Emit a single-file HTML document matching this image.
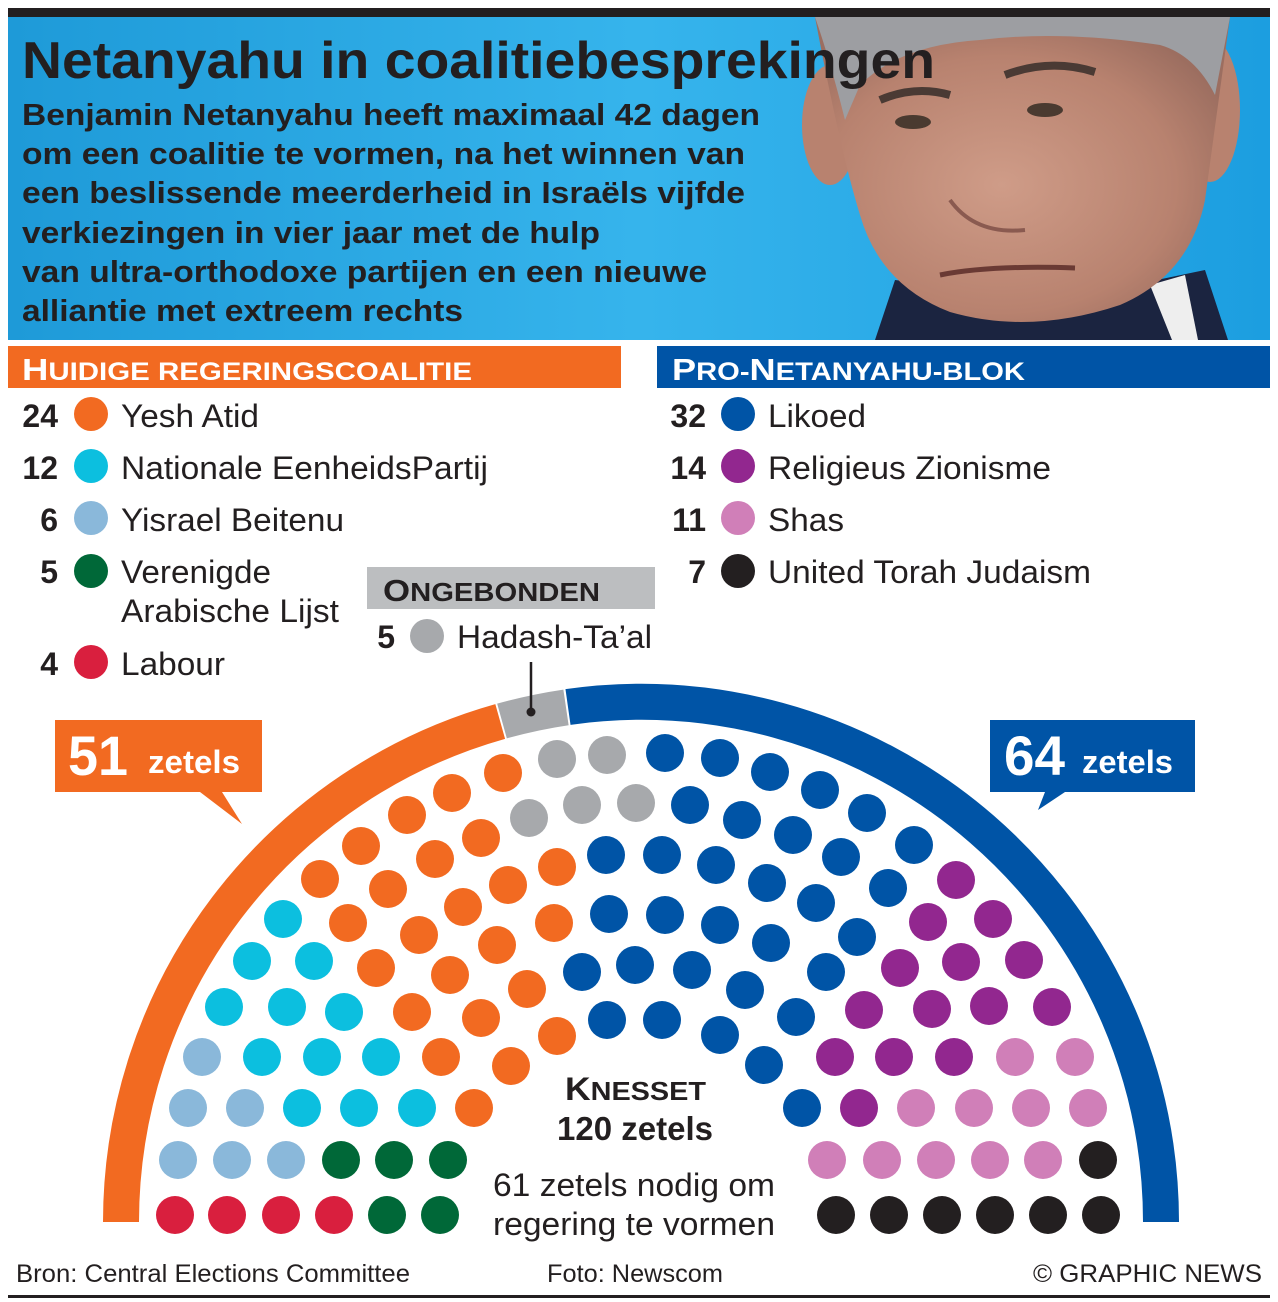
<!DOCTYPE html>
<html><head><meta charset="utf-8"><style>
html,body{margin:0;padding:0;background:#fff}
svg{display:block}
text{font-family:"Liberation Sans",sans-serif}
</style></head><body>
<svg width="1278" height="1302" viewBox="0 0 1278 1302" xmlns="http://www.w3.org/2000/svg">
<defs>
<linearGradient id="bg" x1="0" y1="0" x2="1" y2="0">
<stop offset="0" stop-color="#1e9ad8"/><stop offset="0.5" stop-color="#36b4ec"/><stop offset="1" stop-color="#1c9ee0"/>
</linearGradient>
<radialGradient id="skin" cx="0.45" cy="0.55" r="0.6">
<stop offset="0" stop-color="#cf9c88"/><stop offset="0.7" stop-color="#b8826f"/><stop offset="1" stop-color="#9c6e60"/>
</radialGradient>
</defs>
<rect x="0" y="0" width="1278" height="1302" fill="#fff"/>
<rect x="8" y="8" width="1262" height="9" fill="#231f20"/>
<rect x="8" y="17" width="1262" height="323" fill="url(#bg)"/>
<!-- photo approximation -->
<g>
<path d="M875 340 L895 280 L1060 300 L1205 270 L1228 340 Z" fill="#1b2440"/>
<path d="M1150 285 L1172 340 L1198 340 L1185 275 Z" fill="#eee"/>
<ellipse cx="830" cy="125" rx="28" ry="60" fill="#b8826f"/>
<ellipse cx="1210" cy="110" rx="30" ry="72" fill="#b8826f"/>
<path d="M815 17 L1230 17 L1205 200 Q1190 275 1120 305 Q1030 335 950 312 Q880 285 860 215 Q840 150 815 17 Z" fill="url(#skin)"/>
<path d="M815 17 L1230 17 L1215 95 Q1195 55 1160 45 Q1060 30 980 40 Q900 45 860 85 L845 120 Q830 60 815 17 Z" fill="#9d9ea2"/>
<path d="M880 100 Q915 85 950 95" stroke="#4a3a34" stroke-width="8" fill="none"/>
<path d="M1005 75 Q1050 58 1095 72" stroke="#4a3a34" stroke-width="8" fill="none"/>
<ellipse cx="913" cy="122" rx="18" ry="7" fill="#4a3a30"/>
<ellipse cx="1045" cy="110" rx="18" ry="7" fill="#4a3a30"/>
<path d="M940 275 Q990 265 1075 268" stroke="#6a3a34" stroke-width="5" fill="none"/>
<path d="M950 200 Q975 235 1025 230" stroke="#8a5a50" stroke-width="4" fill="none"/>
</g>
<text x="22" y="78" font-size="52" font-weight="bold" fill="#231f20" textLength="913" lengthAdjust="spacingAndGlyphs">Netanyahu in coalitiebesprekingen</text>
<g font-size="31" font-weight="bold" fill="#231f20">
<text x="22" y="125" textLength="738" lengthAdjust="spacingAndGlyphs">Benjamin Netanyahu heeft maximaal 42 dagen</text>
<text x="22" y="164" textLength="723" lengthAdjust="spacingAndGlyphs">om een coalitie te vormen, na het winnen van</text>
<text x="22" y="203" textLength="723" lengthAdjust="spacingAndGlyphs">een beslissende meerderheid in Israëls vijfde</text>
<text x="22" y="243" textLength="578" lengthAdjust="spacingAndGlyphs">verkiezingen in vier jaar met de hulp</text>
<text x="22" y="282" textLength="685" lengthAdjust="spacingAndGlyphs">van ultra-orthodoxe partijen en een nieuwe</text>
<text x="22" y="321" textLength="441" lengthAdjust="spacingAndGlyphs">alliantie met extreem rechts</text>
</g>
<!-- section bars -->
<rect x="8" y="346" width="613" height="42" fill="#f26a21"/>
<text x="22" y="380" font-size="31" font-weight="bold" fill="#fff" textLength="450" lengthAdjust="spacingAndGlyphs">H<tspan font-size="25">UIDIGE REGERINGSCOALITIE</tspan></text>
<rect x="657" y="346" width="613" height="42" fill="#0054a6"/>
<text x="672" y="380" font-size="31" font-weight="bold" fill="#fff" textLength="353" lengthAdjust="spacingAndGlyphs">P<tspan font-size="25">RO-</tspan>N<tspan font-size="25">ETANYAHU-BLOK</tspan></text>
<!-- legend -->
<g font-size="32" fill="#231f20">
<g font-weight="bold" text-anchor="end">
<text x="58" y="427">24</text><text x="58" y="479">12</text><text x="58" y="531">6</text><text x="58" y="583">5</text><text x="58" y="675">4</text>
<text x="706" y="427">32</text><text x="706" y="479">14</text><text x="706" y="531">11</text><text x="706" y="583">7</text>
<text x="395" y="648">5</text>
</g>
<circle cx="91" cy="414" r="17" fill="#f26a21"/>
<circle cx="91" cy="466" r="17" fill="#0cbfdf"/>
<circle cx="91" cy="518" r="17" fill="#8ab8da"/>
<circle cx="91" cy="571" r="17" fill="#006838"/>
<circle cx="91" cy="662" r="17" fill="#d91f3e"/>
<circle cx="738" cy="414" r="17" fill="#0054a6"/>
<circle cx="738" cy="466" r="17" fill="#92278f"/>
<circle cx="738" cy="518" r="17" fill="#d07fb8"/>
<circle cx="738" cy="571" r="17" fill="#231f20"/>
<circle cx="427" cy="636" r="17" fill="#a7a9ac"/>
<text x="121" y="427" textLength="138" lengthAdjust="spacingAndGlyphs">Yesh Atid</text>
<text x="121" y="479" textLength="367" lengthAdjust="spacingAndGlyphs">Nationale EenheidsPartij</text>
<text x="121" y="531" textLength="223" lengthAdjust="spacingAndGlyphs">Yisrael Beitenu</text>
<text x="121" y="583" textLength="150" lengthAdjust="spacingAndGlyphs">Verenigde</text>
<text x="121" y="622" textLength="218" lengthAdjust="spacingAndGlyphs">Arabische Lijst</text>
<text x="121" y="675" textLength="104" lengthAdjust="spacingAndGlyphs">Labour</text>
<text x="768" y="427" textLength="98" lengthAdjust="spacingAndGlyphs">Likoed</text>
<text x="768" y="479" textLength="283" lengthAdjust="spacingAndGlyphs">Religieus Zionisme</text>
<text x="768" y="531" textLength="76" lengthAdjust="spacingAndGlyphs">Shas</text>
<text x="768" y="583" textLength="323" lengthAdjust="spacingAndGlyphs">United Torah Judaism</text>
<text x="457" y="648" textLength="195" lengthAdjust="spacingAndGlyphs">Hadash-Ta’al</text>
</g>
<rect x="367" y="567" width="288" height="42" fill="#bcbec0"/>
<text x="383" y="601" font-size="31" font-weight="bold" fill="#231f20" textLength="217" lengthAdjust="spacingAndGlyphs">O<tspan font-size="26">NGEBONDEN</tspan></text>
<!-- arcs -->
<g fill="none" stroke-width="36">
<path d="M121 1222 A520 520 0 0 1 500.2 721.5" stroke="#f26a21"/>
<path d="M502 721 A520 520 0 0 1 566 707.4" stroke="#a7a9ac"/>
<path d="M568 707 A520 520 0 0 1 1161 1222" stroke="#0054a6"/>
</g>
<line x1="531" y1="662" x2="531" y2="712" stroke="#231f20" stroke-width="2.5"/>
<circle cx="531" cy="712" r="4.5" fill="#231f20"/>
<!-- callouts -->
<path d="M55 720 H262 V792 H222 L242 824 L200 792 H55 Z" fill="#f26a21"/>
<text x="68" y="775" font-size="56" font-weight="bold" fill="#fff" textLength="60" lengthAdjust="spacingAndGlyphs">51</text>
<text x="148" y="773" font-size="32" font-weight="bold" fill="#fff" textLength="92" lengthAdjust="spacingAndGlyphs">zetels</text>
<path d="M990 720 H1195 V792 H1065 L1038 810 L1045 792 H990 Z" fill="#0054a6"/>
<text x="1004" y="775" font-size="56" font-weight="bold" fill="#fff" textLength="61" lengthAdjust="spacingAndGlyphs">64</text>
<text x="1082" y="773" font-size="32" font-weight="bold" fill="#fff" textLength="91" lengthAdjust="spacingAndGlyphs">zetels</text>
<!-- dots -->
<g>
<g fill="#f26a21">
<circle cx="503" cy="773" r="19"/><circle cx="452" cy="793" r="19"/><circle cx="407" cy="815" r="19"/><circle cx="361" cy="846" r="19"/><circle cx="320" cy="879" r="19"/>
<circle cx="481" cy="838" r="19"/><circle cx="435" cy="859" r="19"/><circle cx="388" cy="889" r="19"/><circle cx="348" cy="923" r="19"/>
<circle cx="557" cy="867" r="19"/><circle cx="508" cy="885" r="19"/><circle cx="463" cy="907" r="19"/><circle cx="419" cy="935" r="19"/><circle cx="376" cy="968" r="19"/>
<circle cx="554" cy="923" r="19"/><circle cx="497" cy="945" r="19"/><circle cx="450" cy="975" r="19"/><circle cx="412" cy="1012" r="19"/>
<circle cx="527" cy="989" r="19"/><circle cx="481" cy="1018" r="19"/><circle cx="441" cy="1057" r="19"/>
<circle cx="557" cy="1036" r="19"/><circle cx="511" cy="1066" r="19"/><circle cx="474" cy="1108" r="19"/>
</g>
<g fill="#0cbfdf">
<circle cx="283" cy="919" r="19"/><circle cx="252" cy="961" r="19"/><circle cx="224" cy="1007" r="19"/>
<circle cx="314" cy="961" r="19"/><circle cx="287" cy="1007" r="19"/><circle cx="262" cy="1057" r="19"/>
<circle cx="344" cy="1012" r="19"/><circle cx="322" cy="1057" r="19"/><circle cx="302" cy="1108" r="19"/>
<circle cx="381" cy="1057" r="19"/><circle cx="359" cy="1108" r="19"/><circle cx="417" cy="1108" r="19"/>
</g>
<g fill="#8ab8da">
<circle cx="202" cy="1057" r="19"/><circle cx="188" cy="1108" r="19"/><circle cx="178" cy="1160" r="19"/>
<circle cx="245" cy="1108" r="19"/><circle cx="232" cy="1160" r="19"/><circle cx="286" cy="1160" r="19"/>
</g>
<g fill="#006838">
<circle cx="341" cy="1160" r="19"/><circle cx="394" cy="1160" r="19"/><circle cx="448" cy="1160" r="19"/>
<circle cx="387" cy="1215" r="19"/><circle cx="440" cy="1215" r="19"/>
</g>
<g fill="#d91f3e">
<circle cx="175" cy="1215" r="19"/><circle cx="227" cy="1215" r="19"/><circle cx="281" cy="1215" r="19"/><circle cx="334" cy="1215" r="19"/>
</g>
<g fill="#a7a9ac">
<circle cx="557" cy="759" r="19"/><circle cx="607" cy="755" r="19"/><circle cx="529" cy="818" r="19"/><circle cx="582" cy="805" r="19"/><circle cx="636" cy="803" r="19"/>
</g>
<g fill="#0054a6">
<circle cx="665" cy="753" r="19"/><circle cx="720" cy="758" r="19"/><circle cx="770" cy="772" r="19"/><circle cx="820" cy="790" r="19"/><circle cx="867" cy="813" r="19"/><circle cx="914" cy="845" r="19"/>
<circle cx="690" cy="805" r="19"/><circle cx="742" cy="820" r="19"/><circle cx="793" cy="835" r="19"/><circle cx="841" cy="857" r="19"/><circle cx="888" cy="888" r="19"/>
<circle cx="606" cy="855" r="19"/><circle cx="662" cy="855" r="19"/><circle cx="716" cy="865" r="19"/><circle cx="767" cy="883" r="19"/><circle cx="816" cy="903" r="19"/><circle cx="857" cy="937" r="19"/>
<circle cx="609" cy="914" r="19"/><circle cx="665" cy="915" r="19"/><circle cx="720" cy="925" r="19"/><circle cx="771" cy="943" r="19"/><circle cx="826" cy="972" r="19"/>
<circle cx="582" cy="972" r="19"/><circle cx="635" cy="965" r="19"/><circle cx="692" cy="970" r="19"/><circle cx="745" cy="990" r="19"/><circle cx="796" cy="1017" r="19"/>
<circle cx="607" cy="1020" r="19"/><circle cx="662" cy="1020" r="19"/><circle cx="720" cy="1035" r="19"/>
<circle cx="764" cy="1065" r="19"/><circle cx="802" cy="1108" r="19"/>
</g>
<g fill="#92278f">
<circle cx="956" cy="880" r="19"/><circle cx="928" cy="922" r="19"/><circle cx="993" cy="919" r="19"/>
<circle cx="900" cy="968" r="19"/><circle cx="961" cy="962" r="19"/><circle cx="1024" cy="960" r="19"/>
<circle cx="864" cy="1010" r="19"/><circle cx="932" cy="1009" r="19"/><circle cx="989" cy="1006" r="19"/><circle cx="1052" cy="1007" r="19"/>
<circle cx="835" cy="1057" r="19"/><circle cx="894" cy="1057" r="19"/><circle cx="954" cy="1057" r="19"/>
<circle cx="859" cy="1108" r="19"/>
</g>
<g fill="#d07fb8">
<circle cx="1015" cy="1057" r="19"/><circle cx="1075" cy="1057" r="19"/>
<circle cx="916" cy="1108" r="19"/><circle cx="974" cy="1108" r="19"/><circle cx="1031" cy="1108" r="19"/><circle cx="1088" cy="1108" r="19"/>
<circle cx="827" cy="1160" r="19"/><circle cx="882" cy="1160" r="19"/><circle cx="936" cy="1160" r="19"/><circle cx="990" cy="1160" r="19"/><circle cx="1043" cy="1160" r="19"/>
</g>
<g fill="#231f20">
<circle cx="1098" cy="1160" r="19"/>
<circle cx="836" cy="1215" r="19"/><circle cx="889" cy="1215" r="19"/><circle cx="942" cy="1215" r="19"/><circle cx="995" cy="1215" r="19"/><circle cx="1048" cy="1215" r="19"/><circle cx="1101" cy="1215" r="19"/>
</g>
</g>
<!-- center text -->
<text x="565" y="1100" font-size="32" font-weight="bold" fill="#231f20" textLength="141" lengthAdjust="spacingAndGlyphs">K<tspan font-size="26">NESSET</tspan></text>
<text x="557" y="1140" font-size="33" font-weight="bold" fill="#231f20" textLength="156" lengthAdjust="spacingAndGlyphs">120 zetels</text>
<text x="493" y="1196" font-size="32" fill="#231f20" textLength="282" lengthAdjust="spacingAndGlyphs">61 zetels nodig om</text>
<text x="493" y="1235" font-size="32" fill="#231f20" textLength="282" lengthAdjust="spacingAndGlyphs">regering te vormen</text>
<!-- footer -->
<g font-size="25" fill="#231f20">
<text x="16" y="1282" textLength="394" lengthAdjust="spacingAndGlyphs">Bron: Central Elections Committee</text>
<text x="547" y="1282" textLength="176" lengthAdjust="spacingAndGlyphs">Foto: Newscom</text>
<text x="1033" y="1282" textLength="229" lengthAdjust="spacingAndGlyphs">© GRAPHIC NEWS</text>
</g>
<rect x="8" y="1295" width="1262" height="3" fill="#231f20"/>
</svg>
</body></html>
